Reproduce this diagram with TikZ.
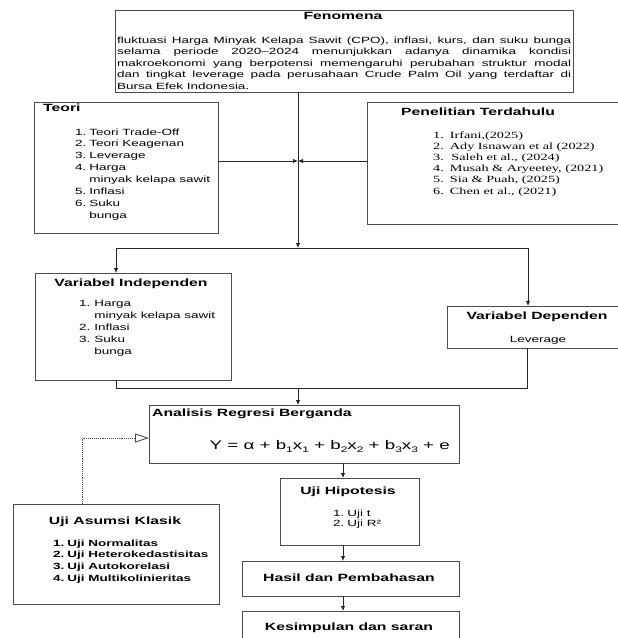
\documentclass[tikz,border=0pt]{standalone}
\usepackage{fontspec}
\setmainfont{Liberation Sans}[FakeStretch=1.5]
\newfontfamily\serifx{Liberation Serif}[FakeStretch=1.5]
\usetikzlibrary{arrows.meta}
\newcommand\sbx[1]{\raisebox{-2.5pt}{\fontsize{8}{8}\selectfont #1}}
\begin{document}
\begin{tikzpicture}[x=1pt,y=-1pt,
  box/.style={draw=black!70, line width=0.9pt, anchor=north west, inner sep=0pt, outer sep=0pt},
  ttl/.style={font=\fontsize{10.5}{12}\selectfont\bfseries, inner sep=0pt, anchor=base},
  txt/.style={font=\fontsize{9}{11.9}\selectfont, inner sep=0pt, anchor=base west},
  arr/.style={draw=black!85, line width=0.8pt, -{Latex[length=5pt,width=4.5pt]}},
  ln/.style={draw=black!85, line width=0.8pt},
  dotconn/.style={draw=black!70, line width=0.9pt, densely dotted, -{Triangle[open, length=14pt, width=9pt]}}]

\useasboundingbox (0,0) rectangle (618,638);
\clip (0,0) rectangle (618,638);

% boxes
\node[box, minimum width=458pt, minimum height=82pt] (fen) at (115,10) {};
\node[box, minimum width=184pt, minimum height=131pt] (teori) at (34,102) {};
\node[box, minimum width=258pt, minimum height=122pt] (pen) at (367,102) {};
\node[box, minimum width=196pt, minimum height=107pt] (ind) at (35,273) {};
\node[box, minimum width=178pt, minimum height=42pt] (dep) at (447,306) {};
\node[box, minimum width=310pt, minimum height=58pt] (ana) at (149,405) {};
\node[box, minimum width=206pt, minimum height=100pt] (ua) at (13,504) {};
\node[box, minimum width=139pt, minimum height=67pt] (uh) at (280,478) {};
\node[box, minimum width=217pt, minimum height=35pt] (has) at (242,561) {};
\node[box, minimum width=217pt, minimum height=39pt] (kes) at (242,611) {};

% connectors
\coordinate (j) at (298,248);
\coordinate (ty) at (0,161);
\draw[arr] (fen.south -| j) -- (j);
\draw[arr] (teori.east |- ty) -- (j |- ty);
\draw[arr] (pen.west |- ty) -- (j |- ty);
\coordinate (jl) at (116,248);
\coordinate (jr) at (528,248);
\draw[ln] (jl) -- (jr);
\draw[arr] (jl) -- (jl |- ind.north);
\draw[arr] (jr) -- (jr |- dep.north);
\coordinate (bl) at (116,388);
\coordinate (br) at (527,388);
\draw[ln] (bl |- ind.south) -- (bl) -- (br) -- (br |- dep.south);
\coordinate (bm) at (298,388);
\draw[arr] (bm) -- (bm |- ana.north);
\coordinate (cx) at (343,0);
\draw[arr] (cx |- ana.south) -- (cx |- uh.north);
\draw[arr] (cx |- uh.south) -- (cx |- has.north);
\draw[arr] (cx |- has.south) -- (cx |- kes.north);
\coordinate (dx) at (82,438);
\draw[dotconn] (dx |- ua.north) -- (dx) -- (dx -| ana.west);

% texts
\node[ttl] (fent) at (343,19.5) {Fenomena};
\node[txt] (fenb) at (117,43) {\parbox[t]{454pt}{\fontsize{9}{11.5}\selectfont
fluktuasi Harga Minyak Kelapa Sawit (CPO), inflasi, kurs, dan suku bunga\linebreak
selama periode 2020–2024 menunjukkan adanya dinamika kondisi\linebreak
makroekonomi yang berpotensi memengaruhi perubahan struktur modal\linebreak
dan tingkat leverage pada perusahaan Crude Palm Oil yang terdaftar di\linebreak
Bursa Efek Indonesia.}};

\node[ttl, anchor=base west] (teorit) at (43,111.5) {Teori};
\node[txt] (teoril) at (75,135) {\begin{tabular}[t]{@{}l@{\hspace{3pt}}l@{}}
1. & Teori Trade-Off\\ 2. & Teori Keagenan\\ 3. & Leverage\\ 4. & Harga\\
 & minyak kelapa sawit\\ 5. & Inflasi\\ 6. & Suku\\ & bunga\end{tabular}};

\node[ttl] (pent) at (478,115.5) {Penelitian Terdahulu};
\node[txt, font=\serifx\fontsize{9.5}{11.2}\selectfont] (penl) at (433,138) {\begin{tabular}[t]{@{}l@{\hspace{6pt}}l@{}}
1. & Irfani,(2025)\\ 2. & Ady Isnawan et al (2022)\\ 3. & \,Saleh et al., (2024)\\
4. & Musah \& Aryeetey, (2021)\\ 5. & Sia \& Puah, (2025)\\ 6. & Chen et al., (2021)\end{tabular}};

\node[ttl] (indt) at (131,286.5) {Variabel Independen};
\node[txt, font=\fontsize{9}{12.2}\selectfont] (indl) at (79,306) {\begin{tabular}[t]{@{}l@{\hspace{4pt}}l@{}}
1. & Harga\\ & minyak kelapa sawit\\ 2. & Inflasi\\ 3. & Suku\\ & bunga\end{tabular}};

\node[ttl] (dept) at (537,319.5) {Variabel Dependen};
\node[txt, anchor=base] (depl) at (538,342) {Leverage};

\node[ttl, anchor=base west] (anat) at (152,416.5) {Analisis Regresi Berganda};
\node[font=\fontsize{12.5}{14}\selectfont, inner sep=0pt, anchor=base east] (eq) at (450,449.5)
  {Y = α + b\sbx{1}x\sbx{1} + b\sbx{2}x\sbx{2} + b\sbx{3}x\sbx{3} + e};

\node[ttl] (uat) at (115,524.5) {Uji Asumsi Klasik};
\node[txt, font=\fontsize{9}{11.7}\selectfont\bfseries] (ual) at (53,546) {\begin{tabular}[t]{@{}l@{\hspace{3pt}}l@{}}
1. & Uji Normalitas\\ 2. & Uji Heterokedastisitas\\ 3. & Uji Autokorelasi\\ 4. & Uji Multikolinieritas\end{tabular}};

\node[ttl] (uht) at (348,494.5) {Uji Hipotesis};
\node[txt, font=\fontsize{9}{10.5}\selectfont] (uhl) at (333,516) {\begin{tabular}[t]{@{}l@{\hspace{3pt}}l@{}}
1. & Uji t\\ 2. & Uji R²\end{tabular}};

\node[ttl] (hast) at (349,581.5) {Hasil dan Pembahasan};
\node[ttl] (kest) at (349,630.5) {Kesimpulan dan saran};
\end{tikzpicture}
\end{document}
